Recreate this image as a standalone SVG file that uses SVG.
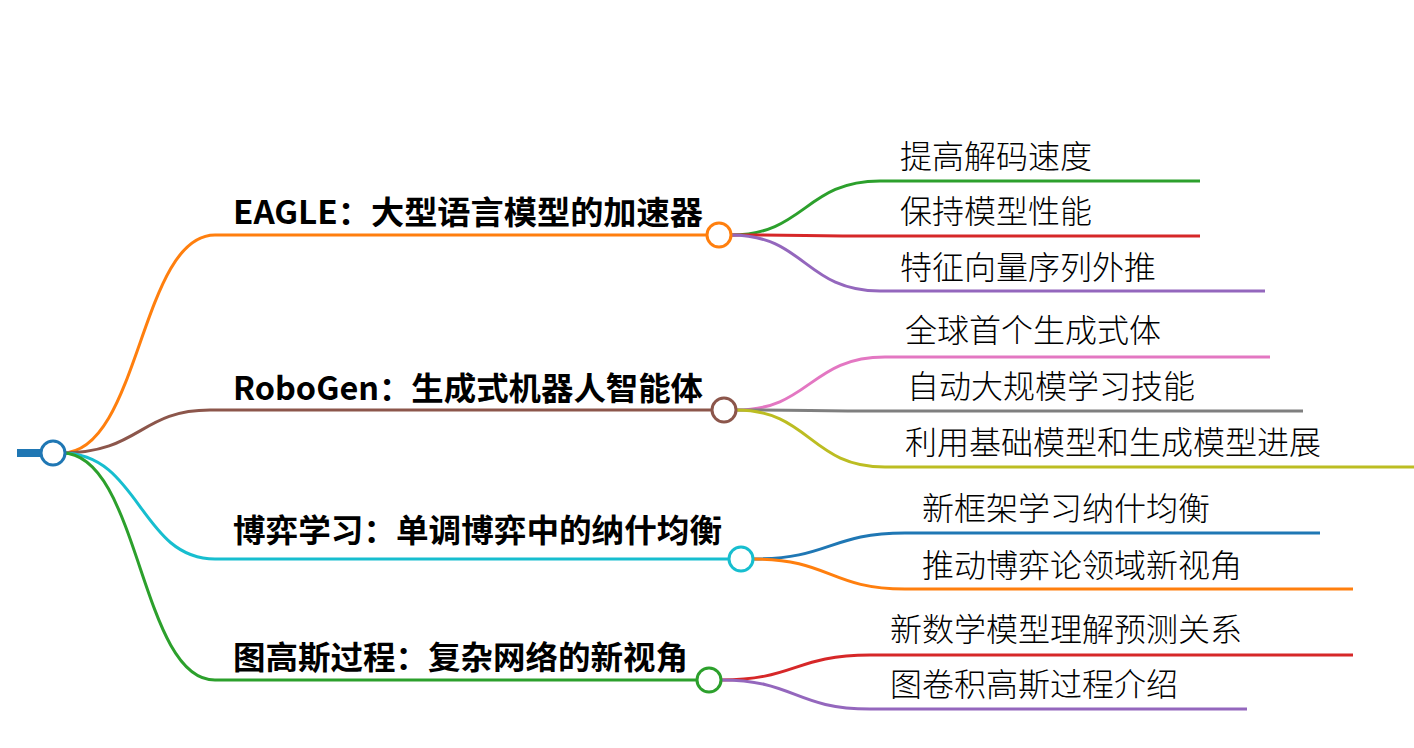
<svg xmlns="http://www.w3.org/2000/svg" width="1414" height="748" viewBox="0 0 1414 748">
<style>
.l{fill:none;stroke-width:3}
.c{fill:#fff;stroke-width:3}
.t{font-family:"Noto Sans CJK SC","Noto Sans",sans-serif;font-size:32px;fill:#000;font-weight:300}
.b{font-weight:bold}
</style>
<rect width="1414" height="748" fill="#fff"/>
<g id="connectors">
<rect x="17" y="449" width="28" height="8" fill="#1f77b4"/>
<path class="l" stroke="#ff7f0e" d="M62,453 C140,453 140,235 215,235 L707,235"/>
<path class="l" stroke="#8c564b" d="M62,453 C140,453 140,410 210,410 L712,410"/>
<path class="l" stroke="#17becf" d="M62,453 C140,453 140,559 215,559 L729,559"/>
<path class="l" stroke="#2ca02c" d="M62,453 C140,453 140,680 215,680 L697,680"/>
<path class="l" stroke="#2ca02c" d="M731,235 C805,235 805,181 880,181 L1200,181"/>
<path class="l" stroke="#d62728" d="M731,235 C805,235 805,236 880,236 L1200,236"/>
<path class="l" stroke="#9467bd" d="M731,235 C805,235 805,291 880,291 L1265,291"/>
<path class="l" stroke="#e377c2" d="M736,410 C810,410 810,357 885,357 L1270,357"/>
<path class="l" stroke="#7f7f7f" d="M736,410 C810,410 810,411 885,411 L1303,411"/>
<path class="l" stroke="#bcbd22" d="M736,410 C810,410 810,467 885,467 L1414,467"/>
<path class="l" stroke="#1f77b4" d="M753,559 C830,559 830,533 905,533 L1320,533"/>
<path class="l" stroke="#ff7f0e" d="M753,559 C830,559 830,589 905,589 L1353,589"/>
<path class="l" stroke="#d62728" d="M721,680 C795,680 795,655 870,655 L1353,655"/>
<path class="l" stroke="#9467bd" d="M721,680 C795,680 795,709 870,709 L1247,709"/>
</g>
<g id="root"><circle class="c" cx="53" cy="453" r="12" stroke="#1f77b4"/></g>
<g id="n1"><text class="t b" x="233" y="224" textLength="470" lengthAdjust="spacingAndGlyphs">EAGLE：大型语言模型的加速器</text><circle class="c" cx="719" cy="235" r="12" stroke="#ff7f0e"/></g>
<g id="n1a"><text class="t" x="900" y="168">提高解码速度</text></g>
<g id="n1b"><text class="t" x="900" y="223">保持模型性能</text></g>
<g id="n1c"><text class="t" x="900" y="279">特征向量序列外推</text></g>
<g id="n2"><text class="t b" x="233" y="400" textLength="470" lengthAdjust="spacingAndGlyphs">RoboGen：生成式机器人智能体</text><circle class="c" cx="724" cy="410" r="12" stroke="#8c564b"/></g>
<g id="n2a"><text class="t" x="905" y="342">全球首个生成式体</text></g>
<g id="n2b"><text class="t" x="907" y="398">自动大规模学习技能</text></g>
<g id="n2c"><text class="t" x="905" y="454">利用基础模型和生成模型进展</text></g>
<g id="n3"><text class="t b" x="233" y="542" textLength="489" lengthAdjust="spacingAndGlyphs">博弈学习：单调博弈中的纳什均衡</text><circle class="c" cx="741" cy="559" r="12" stroke="#17becf"/></g>
<g id="n3a"><text class="t" x="922" y="520">新框架学习纳什均衡</text></g>
<g id="n3b"><text class="t" x="922" y="577">推动博弈论领域新视角</text></g>
<g id="n4"><text class="t b" x="233" y="669" textLength="455" lengthAdjust="spacingAndGlyphs">图高斯过程：复杂网络的新视角</text><circle class="c" cx="709" cy="680" r="12" stroke="#2ca02c"/></g>
<g id="n4a"><text class="t" x="890" y="641">新数学模型理解预测关系</text></g>
<g id="n4b"><text class="t" x="890" y="696">图卷积高斯过程介绍</text></g>
</svg>
